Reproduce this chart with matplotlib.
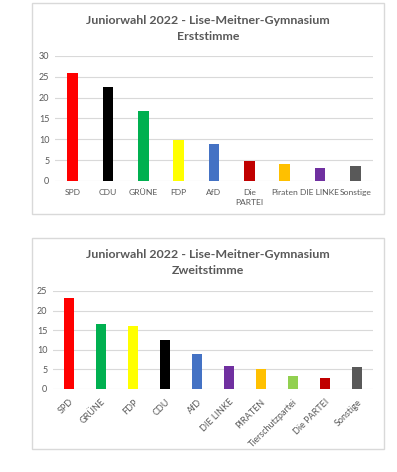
import matplotlib.pyplot as plt
from matplotlib.patches import Rectangle

# Erststimme data
parties1 = ["SPD", "CDU", "GRÜNE", "FDP", "AfD", "Die\nPARTEI", "Piraten", "DIE LINKE", "Sonstige"]
votes1 = [25.8, 22.6, 16.9, 9.9, 8.9, 4.9, 4.0, 3.2, 3.7]
colors1 = ["#FF0000", "#000000", "#00B050", "#FFFF00", "#4472C4", "#C00000", "#FFC000", "#7030A0", "#595959"]

# Zweitstimme data
parties2 = ["SPD", "GRÜNE", "FDP", "CDU", "AfD", "DIE LINKE", "PIRATEN", "Tierschutzpartei", "Die PARTEI", "Sonstige"]
votes2 = [23.3, 16.7, 16.0, 12.5, 9.0, 5.9, 5.0, 3.4, 2.9, 5.5]
colors2 = ["#FF0000", "#00B050", "#FFFF00", "#000000", "#4472C4", "#7030A0", "#FFC000", "#92D050", "#C00000", "#595959"]

W, H = 397, 472
gray = "#595959"
plt.rcParams['font.family'] = ['Lato', 'DejaVu Sans']

fig = plt.figure(figsize=(W / 100, H / 100), dpi=100)

def px(x0, y0, x1, y1):
    # pixel box (top-left origin) -> figure coords
    return [x0 / W, 1 - y1 / H, (x1 - x0) / W, (y1 - y0) / H]

# chart frames
for y0, y1 in [(3, 214), (238, 449)]:
    fig.patches.append(Rectangle((32 / W, 1 - y1 / H), (384 - 32) / W, (y1 - y0) / H,
                                 transform=fig.transFigure, fill=False,
                                 edgecolor="#D9D9D9", lw=1.0))

def style(ax, ymax):
    ax.set_ylim(0, ymax)
    ax.set_yticks(range(0, ymax + 1, 5))
    ax.yaxis.grid(True, color="#D9D9D9", lw=0.8)
    ax.set_axisbelow(True)
    for s in ax.spines.values():
        s.set_visible(False)
    ax.tick_params(length=0, colors=gray, labelsize=6.5, pad=4)

cx = 0.5 * (32 + 384) / W

# top chart
ax1 = fig.add_axes(px(55, 56, 373, 181))
ax1.bar(range(len(votes1)), votes1, width=0.31, color=colors1)
ax1.set_xlim(-0.5, len(votes1) - 0.5)
style(ax1, 30)
ax1.set_xticks(range(len(parties1)))
ax1.set_xticklabels(parties1, va="top", linespacing=1.4)
ax1.tick_params(axis="x", pad=6, labelsize=6.1)
fig.text(cx, 1 - 20 / H, "Juniorwahl 2022 - Lise-Meitner-Gymnasium",
         ha="center", va="center", fontsize=8.9, fontweight="bold", color=gray)
fig.text(cx, 1 - 36 / H, "Erststimme",
         ha="center", va="center", fontsize=8.9, fontweight="bold", color=gray)

# bottom chart
ax2 = fig.add_axes(px(53, 291, 373, 389))
ax2.bar(range(len(votes2)), votes2, width=0.31, color=colors2)
ax2.set_xlim(-0.5, len(votes2) - 0.5)
style(ax2, 25)
ax2.set_xticks(range(len(parties2)))
ax2.set_xticklabels(parties2, rotation=45, ha="right", rotation_mode="anchor")
ax2.tick_params(axis="x", pad=6)
fig.text(cx, 1 - 255 / H, "Juniorwahl 2022 - Lise-Meitner-Gymnasium",
         ha="center", va="center", fontsize=8.9, fontweight="bold", color=gray)
fig.text(cx, 1 - 271 / H, "Zweitstimme",
         ha="center", va="center", fontsize=8.9, fontweight="bold", color=gray)

fig.savefig("out.png", dpi=100, facecolor="white")
